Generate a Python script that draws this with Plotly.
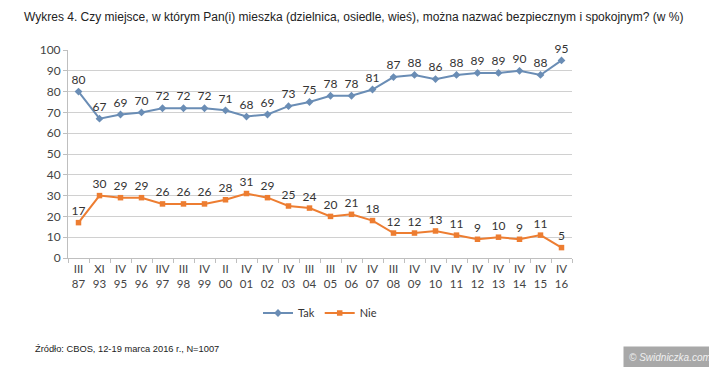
import plotly.graph_objects as go

months = ["III", "XI", "IV", "IV", "IIV", "III", "IV", "II", "IV", "IV", "IV", "III",
          "III", "IV", "IV", "III", "IV", "IV", "IV", "IV", "IV", "IV", "IV", "IV"]
years = ["87", "93", "95", "96", "97", "98", "99", "00", "01", "02", "03", "04",
         "05", "06", "07", "08", "09", "10", "11", "12", "13", "14", "15", "16"]
tak = [80, 67, 69, 70, 72, 72, 72, 71, 68, 69, 73, 75, 78, 78, 81, 87, 88, 86, 88, 89, 89, 90, 88, 95]
nie = [17, 30, 29, 29, 26, 26, 26, 28, 31, 29, 25, 24, 20, 21, 18, 12, 12, 13, 11, 9, 10, 9, 11, 5]

cats = [f"{m}<br>{y}" for m, y in zip(months, years)]

font_lab = "Lato, Open Sans, sans-serif"

fig = go.Figure()
fig.add_trace(go.Scatter(
    x=cats, y=tak, name="Tak", mode="lines+markers+text",
    line=dict(color="#6A8DB5", width=2),
    marker=dict(symbol="diamond", size=6, color="#6A8DB5"),
    text=[str(v) for v in tak], textposition="top center", cliponaxis=False,
    textfont=dict(family=font_lab, size=12, color="#333333"),
))
fig.add_trace(go.Scatter(
    x=cats, y=nie, name="Nie", mode="lines+markers+text",
    line=dict(color="#ED7D31", width=2),
    marker=dict(symbol="square", size=5.5, color="#ED7D31"),
    text=[str(v) for v in nie], textposition="top center", cliponaxis=False,
    textfont=dict(family=font_lab, size=12, color="#333333"),
))

# page has an 8px body margin, so the figure is sized and positioned to compensate
fig.update_layout(
    width=709, height=359,
    margin=dict(l=60, r=145, t=42, b=109),
    paper_bgcolor="white", plot_bgcolor="white",
    title=dict(
        text="Wykres 4. Czy miejsce, w którym Pan(i) mieszka (dzielnica, osiedle, wieś), można nazwać bezpiecznym i spokojnym? (w %)",
        x=16/709, xanchor="left", y=1-9/359, yanchor="middle",
        font=dict(family="Liberation Sans, Arial, sans-serif", size=12, color="#222222"),
    ),
    showlegend=True,
    legend=dict(
        orientation="h", x=0.5, xanchor="center", y=(258-313)/208, yanchor="middle",
        font=dict(family=font_lab, size=11, color="#333333"),
        itemwidth=30, tracegroupgap=0,
    ),
    xaxis=dict(
        type="category", range=[-0.5, 23.5], showgrid=False, showline=True, linecolor="#BFBFBF",
        ticks="outside", tickson="boundaries", ticklen=4, tickcolor="#BFBFBF",
        tickangle=0, automargin=False,
        tickfont=dict(family=font_lab, size=11.5, color="#444444"),
    ),
    yaxis=dict(
        range=[0, 100], dtick=10, showgrid=True, gridcolor="#D0D0D0", gridwidth=1,
        showline=True, linecolor="#BFBFBF", ticks="outside", ticklen=4, tickcolor="#BFBFBF",
        automargin=False,
        tickfont=dict(family=font_lab, size=12, color="#444444"),
        zeroline=False,
    ),
    annotations=[
        dict(text="Źródło: CBOS, 12-19 marca 2016 r., N=1007", xref="paper", yref="paper",
             x=(33-68)/504, y=(258-349)/208, xanchor="left", yanchor="middle", showarrow=False,
             font=dict(family="Liberation Sans, Arial, sans-serif", size=9.3, color="#222222")),
        dict(text="<i>© Swidniczka.com</i>", xref="paper", yref="paper",
             x=(717-68)/504, y=(258-357)/208, xanchor="right", yanchor="middle", showarrow=False,
             bgcolor="#A8A8A8", borderpad=5,
             font=dict(family="Liberation Sans, Arial, sans-serif", size=10, color="#F0F0F0")),
    ],
)

fig.write_html("out.html")
